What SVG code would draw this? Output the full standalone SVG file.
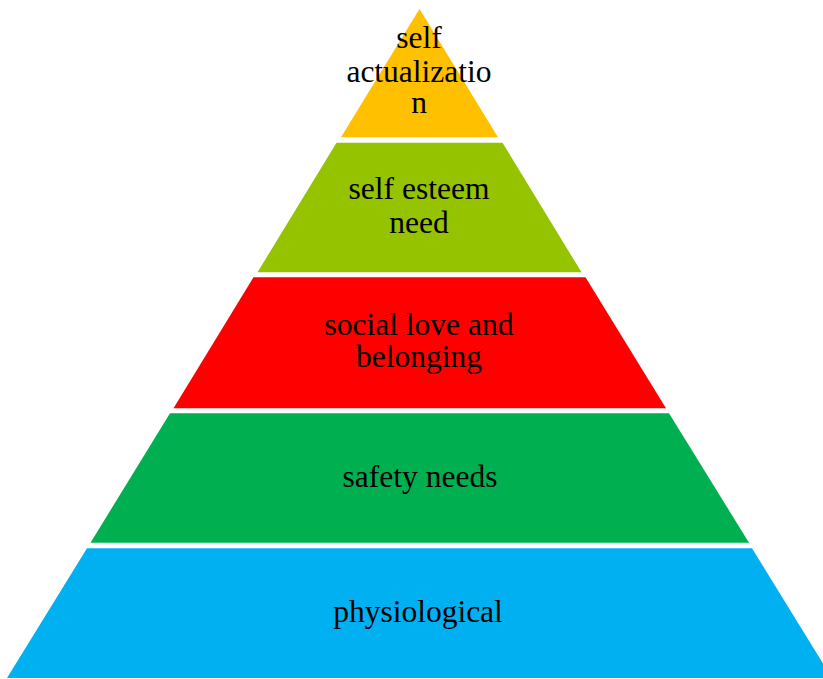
<svg xmlns="http://www.w3.org/2000/svg" width="823" height="679" viewBox="0 0 823 679">
<style>
text{font-family:"Liberation Serif","Times New Roman",serif;font-size:31.5px;fill:#000;text-anchor:middle}
</style>
<rect width="823" height="679" fill="#fff"/>
<g id="level5-self-actualization">
<polygon points="419.5,9 498,137.3 341,137.3" fill="#FFC000"/>
<text x="419" y="48.3">self</text>
<text x="419" y="81.7">actualizatio</text>
<text x="419" y="113.3">n</text>
</g>
<g id="level4-self-esteem">
<polygon points="336.5,142.7 502.5,142.7 581.5,272.3 257.5,272.3" fill="#96C300"/>
<text x="419" y="199.3">self esteem</text>
<text x="419" y="232.7">need</text>
</g>
<g id="level3-social">
<polygon points="253.5,277.3 585.5,277.3 666,408.3 173.5,408.3" fill="#FF0000"/>
<text x="419" y="335">social love and</text>
<text x="419" y="366.5">belonging</text>
</g>
<g id="level2-safety">
<polygon points="170,413.3 669,413.3 749,542.7 90.5,542.7" fill="#00B050"/>
<text x="420" y="486.7">safety needs</text>
</g>
<g id="level1-physiological">
<polygon points="87,548.3 752,548.3 832,678 7,678" fill="#00B0F0"/>
<text x="418" y="621.7">physiological</text>
</g>
<g id="connectors"></g>
</svg>
